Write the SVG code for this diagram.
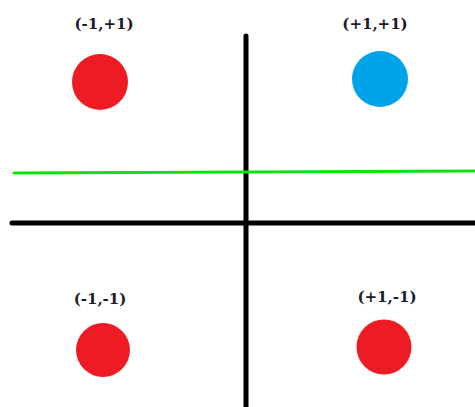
<svg xmlns="http://www.w3.org/2000/svg" width="475" height="407" viewBox="0 0 475 407">
<style>
.lbl{font-family:"DejaVu Serif","Liberation Serif",serif;font-weight:bold;font-size:15px;fill:#1b1b2a;text-anchor:middle}
.red{fill:#ED1C24}
.blue{fill:#00A2E8}
.axis{stroke:#000;stroke-width:5;stroke-linecap:round;fill:none}
</style>
<rect width="475" height="407" fill="#fff"/>
<g id="connectors">
<line class="axis" x1="246" y1="36" x2="246" y2="410"/>
<line class="axis" x1="12" y1="223" x2="480" y2="223"/>
<line x1="14" y1="173" x2="480" y2="171" stroke="#0BE30B" stroke-width="3" stroke-linecap="round"/>
</g>
<g id="n1"><circle class="red" cx="100" cy="82" r="28"/><text class="lbl" x="104" y="29">(-1,+1)</text></g>
<g id="n2"><circle class="blue" cx="380" cy="79" r="28"/><text class="lbl" x="375" y="29">(+1,+1)</text></g>
<g id="n3"><circle class="red" cx="103" cy="350" r="27"/><text class="lbl" x="100" y="304">(-1,-1)</text></g>
<g id="n4"><circle class="red" cx="384" cy="347" r="27.5"/><text class="lbl" x="387" y="302">(+1,-1)</text></g>
</svg>
